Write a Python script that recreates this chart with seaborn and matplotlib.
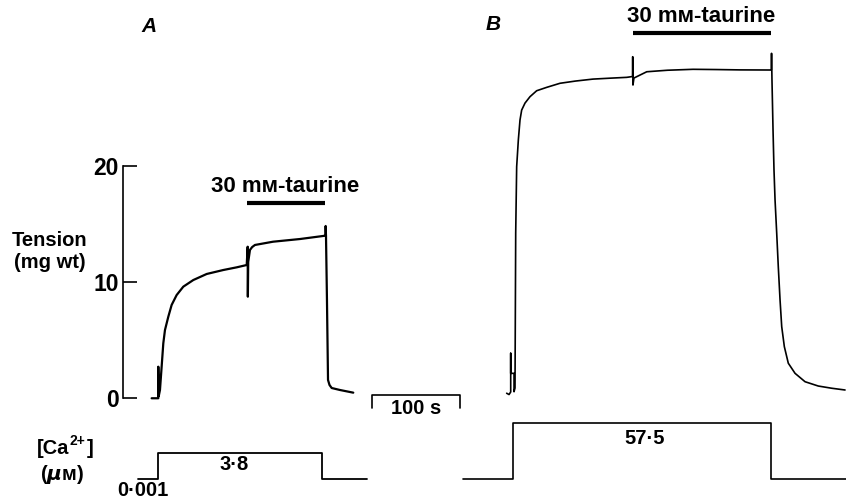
import numpy as np
import pandas as pd
import matplotlib
matplotlib.use("Agg")
import matplotlib.pyplot as plt
import seaborn as sns

# ---------------- data ----------------
# Panel A tension trace: time (s), tension (mg wt)
a_time = [1.9, 9.5, 9.5, 10.0, 11.4, 13.3, 15.2, 17.1, 20.9, 24.7, 30.4, 38.0, 49.4, 64.7,
          83.6, 98.9, 110.3, 111.4, 111.6, 112.0, 114.0, 116.5, 119.7, 140.3, 171.0, 197.3,
          200.1, 200.3, 200.7, 201.8, 203.0, 204.7, 207.2, 216.6, 231.8]
a_tension = [0.02, 0.02, 2.73, 0.21, 0.73, 2.73, 4.74, 5.88, 7.02, 8.03, 8.88, 9.60, 10.17, 10.69,
             11.03, 11.26, 11.46, 13.03, 8.74, 11.72, 12.75, 13.00, 13.18, 13.46, 13.69, 13.95,
             13.99, 14.81, 13.95, 8.46, 1.59, 1.16, 0.90, 0.73, 0.50]

# Panel B tension trace
b_time = [406.7, 409.4, 411.3, 411.3, 411.3, 415.1, 415.1, 416.2, 417.0, 418.1, 420.0, 421.9,
          423.8, 427.6, 433.3, 440.9, 452.3, 467.5, 485.0, 505.1, 525.0, 543.6, 550.2, 550.4,
          550.7, 551.8, 566.4, 590.0, 619.2, 645.0, 672.8, 707.0, 708.4, 708.7, 709.2, 710.4,
          711.5, 712.7, 714.6, 716.4, 718.4, 720.3, 723.3, 727.8, 735.5, 746.9, 762.0, 777.3,
          792.5]
b_tension = [0.45, 0.34, 0.56, 3.88, 2.16, 2.16, 0.58, 0.90, 14.21, 19.90, 22.19, 23.91,
             24.76, 25.36, 25.91, 26.42, 26.71, 27.06, 27.25, 27.42, 27.50, 27.57, 27.64, 29.34,
             26.91, 27.51, 28.05, 28.18, 28.26, 28.24, 28.21, 28.20, 28.20, 29.63, 27.34, 23.05,
             19.62, 17.04, 14.18, 11.31, 8.46, 6.17, 4.45, 3.03, 2.16, 1.44, 1.07, 0.88,
             0.73]

# Taurine application periods (s)
taurine_A = [110.3, 199.5]
taurine_B = [551.1, 707.8]
taurine_label = "30 mᴍ-taurine"

# Ca2+ protocol (step times in s, relative drawn step level)
ca_A_time = [-13.1, 9.1, 195.8, 247.1]
ca_A_level = [0, 1.0, 0, 0]
ca_B_time = [356.9, 414.3, 708.1, 793.6]
ca_B_level = [0, 2.1, 0, 0]
ca_labels = ["0·001", "3·8", "57·5"]

tension_ticks = [0, 10, 20]
scale_bar_s = 100

# ---------------- figure ----------------
sns.set_style("white")
plt.rcParams["font.family"] = ["Liberation Sans", "DejaVu Sans"]
plt.rcParams["font.weight"] = "bold"
plt.rcParams["mathtext.default"] = "regular"

W, H = 846, 501
fig = plt.figure(figsize=(W / 100, H / 100), dpi=100)
fig.patch.set_facecolor("white")

ax = fig.add_axes([0, 0, 1, 1])
ax.patch.set_alpha(0)
XLIM = (-171.0, 793.6)

dfA = pd.DataFrame({"t": a_time, "mg": a_tension})
dfB = pd.DataFrame({"t": b_time, "mg": b_tension})
sns.lineplot(data=dfA, x="t", y="mg", sort=False, estimator=None, color="black",
             lw=1.6, ax=ax)
sns.lineplot(data=dfB, x="t", y="mg", sort=False, estimator=None, color="black",
             lw=1.2, ax=ax)

# taurine bars
ax.hlines(16.78, *taurine_A, color="black", lw=3.0)
ax.hlines(31.40, *taurine_B, color="black", lw=3.0)

# 100 s scale bar
sb0 = 253.5
ax.plot([sb0, sb0, sb0 + scale_bar_s, sb0 + scale_bar_s], [-0.85, 0.3, 0.3, -0.85],
        color="black", lw=1.2)

ax.set_xlim(*XLIM)
ax.set_ylim(-8.80, 34.21)
ax.set_xlabel("")
ax.set_ylabel("")
for s in ["top", "right", "bottom"]:
    ax.spines[s].set_visible(False)
ax.spines["left"].set_position(("data", -30.8))
ax.spines["left"].set_bounds(0, 20)
ax.spines["left"].set_linewidth(1.2)
ax.spines["left"].set_color("black")
ax.set_xticks([])
ax.set_yticks(tension_ticks)
ax.set_yticklabels([str(v) for v in tension_ticks], fontsize=16.5, fontweight="bold")
ax.tick_params(axis="y", direction="in", length=10, width=1.2, pad=3, colors="black",
               left=True)

# Ca2+ axes
ax2 = fig.add_axes([0, 0, 1, 1])
ax2.patch.set_alpha(0)
dfCA = pd.DataFrame({"t": ca_A_time, "lvl": ca_A_level})
dfCB = pd.DataFrame({"t": ca_B_time, "lvl": ca_B_level})
sns.lineplot(data=dfCA, x="t", y="lvl", estimator=None, drawstyle="steps-post",
             color="black", lw=1.3, ax=ax2)
sns.lineplot(data=dfCB, x="t", y="lvl", estimator=None, drawstyle="steps-post",
             color="black", lw=1.2, ax=ax2)
ax2.set_xlim(*XLIM)
ax2.set_ylim(-0.83, 18.08)
ax2.axis("off")


def ftext(px, py, s, ha="center", **kw):
    fig.text(px / W, 1 - py / H, s, ha=ha, va="center", fontweight="bold",
             color="black", **kw)


ftext(149, 26, "A", fontsize=15, style="italic")
ftext(493, 25, "B", fontsize=15, style="italic")
ftext(285, 187, taurine_label, fontsize=16)
ftext(701, 17, taurine_label, fontsize=16)
ftext(50, 240, "Tension", fontsize=14.5)
ftext(50, 263, "(mg wt)", fontsize=14.5)
ftext(416, 408, f"{scale_bar_s} s", fontsize=14.5)
ftext(69, 448, "[Ca", ha="right", fontsize=14.5)
ftext(69.5, 441, "2+", ha="left", fontsize=10)
ftext(87, 448, "]", ha="left", fontsize=14.5)
ftext(62, 475, r"($\mathit{\mu}$ᴍ)", fontsize=14.5)
ftext(143, 490, ca_labels[0], fontsize=14.5)
ftext(234, 465, ca_labels[1], fontsize=14.5)
ftext(645, 438, ca_labels[2], fontsize=14.5)

fig.savefig("out.png", dpi=100, facecolor="white")
